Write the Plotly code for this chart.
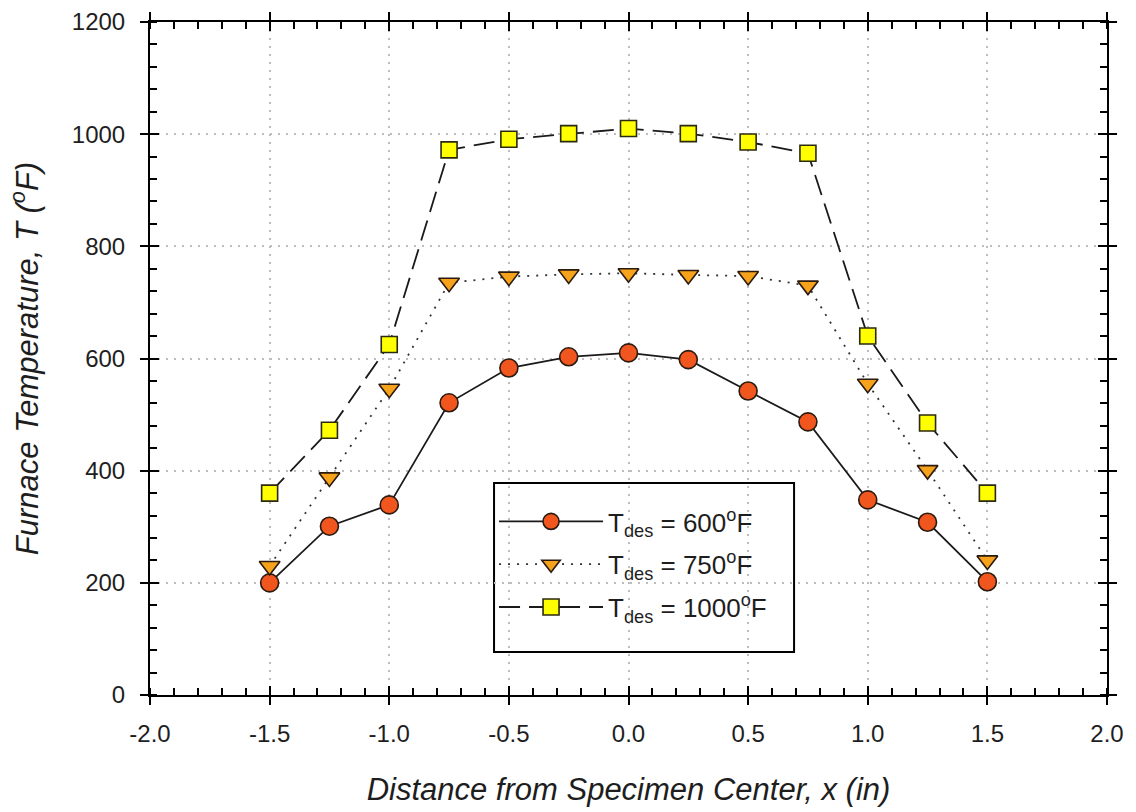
import plotly.graph_objects as go

x_in = [-1.5, -1.25, -1.0, -0.75, -0.5, -0.25, 0.0, 0.25, 0.5, 0.75, 1.0, 1.25, 1.5]
t_600 = [200, 301, 339, 521, 583, 603, 610, 598, 542, 487, 348, 308, 202]
t_750 = [230, 388, 546, 735, 746, 750, 752, 749, 747, 730, 555, 401, 240]
t_1000 = [360, 472, 625, 972, 991, 1001, 1010, 1001, 986, 966, 640, 485, 360]

names = ["T<sub>des</sub> = 600<sup>o</sup>F",
         "T<sub>des</sub> = 750<sup>o</sup>F",
         "T<sub>des</sub> = 1000<sup>o</sup>F"]

x_ticks = [-2.0, -1.5, -1.0, -0.5, 0.0, 0.5, 1.0, 1.5, 2.0]
x_ticklabels = ["-2.0", "-1.5", "-1.0", "-0.5", "0.0", "0.5", "1.0", "1.5", "2.0"]
y_ticks = [0, 200, 400, 600, 800, 1000, 1200]

FONT = "Arial, 'Liberation Sans', sans-serif"
TXT = "#1e1e1e"

fig = go.Figure()
fig.add_trace(go.Scatter(
    x=x_in, y=t_600, name=names[0], mode="lines+markers", legendgroup="a",
    line=dict(color="#1a1a1a", width=1.8, dash="solid"),
    marker=dict(symbol="circle", size=18, color="#F0561E", line=dict(color="#2a1a10", width=1.6))))
fig.add_trace(go.Scatter(
    x=x_in, y=t_750, name=names[1], mode="lines+markers", legendgroup="b",
    line=dict(color="#333333", width=1.8, dash="2px,7px"),
    marker=dict(symbol="triangle-down", size=18, color="#F7A21B", line=dict(color="#2a1a10", width=1.6))))
fig.add_trace(go.Scatter(
    x=x_in, y=t_1000, name=names[2], mode="lines+markers", legendgroup="c",
    line=dict(color="#1a1a1a", width=1.8, dash="21px,9px"),
    marker=dict(symbol="square", size=16, color="#FFFF00", line=dict(color="#2a2a10", width=1.6))))

axis_common = dict(
    showline=True, linecolor="black", linewidth=2, mirror="allticks",
    ticks="outside", ticklen=8, tickwidth=2, tickcolor="black",
    showgrid=True, gridcolor="#bdbdbd", griddash="2px,6px", gridwidth=2,
    zeroline=False, automargin=False, tickfont=dict(family=FONT, size=24, color=TXT),
)

fig.update_layout(
    width=1136, height=812,
    margin=dict(l=150, r=29, t=22, b=117),
    paper_bgcolor="white", plot_bgcolor="white",
    font=dict(family=FONT, color=TXT),
    xaxis=dict(
        range=[-2.0, 2.0], tickvals=x_ticks, ticktext=x_ticklabels,
        minor=dict(dtick=0.1, ticks="inside", ticklen=7, tickwidth=2, tickcolor="black", showgrid=False),
        ticklabelstandoff=8,
        title=dict(text="<i>Distance from Specimen Center, x (in)</i>",
                   font=dict(family=FONT, size=31, color=TXT), standoff=33),
        **axis_common),
    yaxis=dict(
        range=[0, 1200], tickvals=y_ticks,
        minor=dict(dtick=40, ticks="inside", ticklen=7, tickwidth=2, tickcolor="black", showgrid=False),
        ticklabelstandoff=10,
        title=dict(text="<i>Furnace Temperature, T (<sup>o</sup>F)</i>",
                   font=dict(family=FONT, size=31, color=TXT), standoff=24),
        **axis_common),
    xaxis2=dict(overlaying="x", range=[-2.0, 2.0], tickvals=x_ticks,
                showticklabels=False, ticks="inside", ticklen=9, tickwidth=2, tickcolor="black",
                mirror="allticks", showline=True, linecolor="black", linewidth=2,
                showgrid=False, zeroline=False, side="bottom", automargin=False),
    yaxis2=dict(overlaying="y", range=[0, 1200], tickvals=y_ticks,
                showticklabels=False, ticks="inside", ticklen=9, tickwidth=2, tickcolor="black",
                mirror="allticks", showline=True, linecolor="black", linewidth=2,
                showgrid=False, zeroline=False, side="left", automargin=False),
    legend=dict(
        x=0.3595, y=0.2927, xanchor="left", yanchor="top",
        bgcolor="rgba(0,0,0,0)", borderwidth=0,
        font=dict(family=FONT, size=26, color=TXT),
        itemwidth=104, tracegroupgap=6, traceorder="grouped",
    ),
    shapes=[dict(type="rect", xref="paper", yref="paper",
                 x0=0.3595, x1=0.673, y0=0.0639, y1=0.315,
                 line=dict(color="black", width=2), fillcolor="white", layer="between")],
    showlegend=True,
)

# invisible trace to activate overlay axes
fig.add_trace(go.Scatter(x=[None], y=[None], xaxis="x2", yaxis="y2", showlegend=False, hoverinfo="skip"))

fig.write_html("out.html")
